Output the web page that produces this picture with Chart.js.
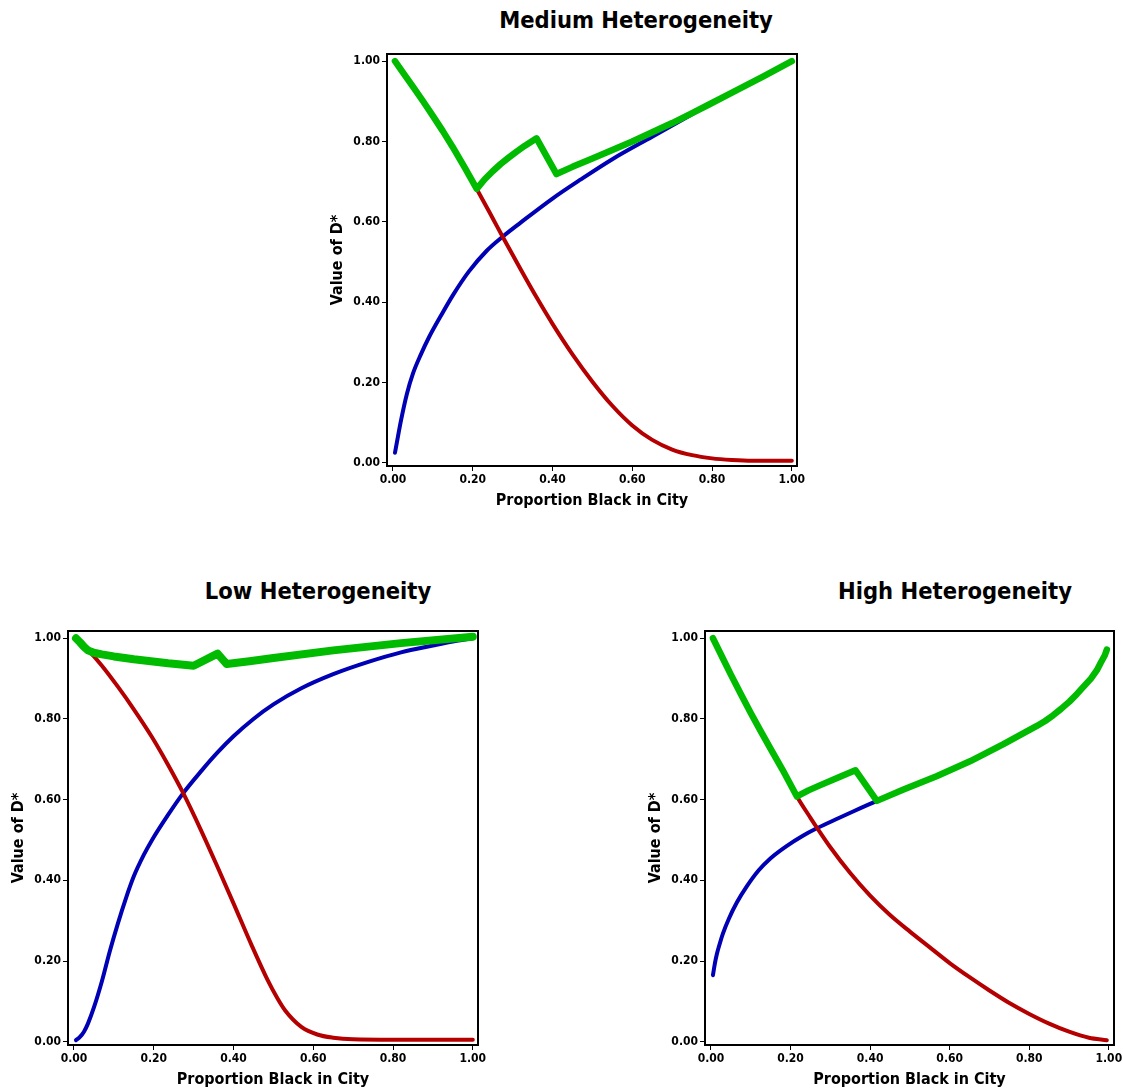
<!DOCTYPE html>
<html>
<head>
<meta charset="utf-8">
<script src="https://cdn.jsdelivr.net/npm/chart.js@4.4.1/dist/chart.umd.min.js"></script>
<style>
  body { margin: 0; background: #fff; width: 1123px; height: 1091px; position: relative; overflow: hidden; }
  canvas { position: absolute; }
  .title {
    position: absolute; width: 400px; height: 32px; line-height: 32px; text-align: center;
    font-family: 'DejaVu Sans Condensed', 'DejaVu Sans', sans-serif; font-weight: bold; font-size: 23.5px; color: #000;
  }
</style>
</head>
<body>
<div class="title" style="left:436px;top:4px">Medium Heterogeneity</div>
<div class="title" style="left:118px;top:575px">Low Heterogeneity</div>
<div class="title" style="left:755px;top:575px">High Heterogeneity</div>
<canvas id="medChart" width="486" height="470" style="left:325px;top:44px"></canvas>
<canvas id="lowChart" width="486" height="472" style="left:6px;top:621px"></canvas>
<canvas id="highChart" width="485" height="472" style="left:643px;top:621px"></canvas>
<script>
// axis ticks and labels
const xTicks = [0, 0.2, 0.4, 0.6, 0.8, 1.0];
const yTicks = [0, 0.2, 0.4, 0.6, 0.8, 1.0];
const xLabel = "Proportion Black in City";
const yLabel = "Value of D*";

// medium heterogeneity
const medRedX = [0.005, 0.03, 0.05, 0.075, 0.10, 0.125, 0.15, 0.18, 0.21, 0.25, 0.275, 0.32, 0.36, 0.40, 0.45, 0.50, 0.55, 0.60, 0.65, 0.70, 0.75, 0.80, 0.85, 0.90, 1.0];
const medRedY = [1.0, 0.965, 0.937, 0.901, 0.864, 0.826, 0.786, 0.735, 0.682, 0.609, 0.563, 0.482, 0.412, 0.346, 0.27, 0.202, 0.142, 0.093, 0.057, 0.033, 0.019, 0.011, 0.007, 0.005, 0.005];
const medBlueX = [0.005, 0.01, 0.02, 0.035, 0.05, 0.07, 0.09, 0.12, 0.15, 0.19, 0.235, 0.275, 0.32, 0.40, 0.47, 0.55, 0.65, 0.75, 0.85, 0.93, 1.0];
const medBlueY = [0.025, 0.052, 0.105, 0.172, 0.222, 0.27, 0.312, 0.366, 0.417, 0.476, 0.528, 0.563, 0.598, 0.658, 0.705, 0.756, 0.812, 0.868, 0.922, 0.963, 1.0];
const medGreenX = [0.005, 0.03, 0.05, 0.075, 0.10, 0.125, 0.15, 0.18, 0.21, 0.23, 0.25, 0.27, 0.29, 0.31, 0.33, 0.36, 0.41, 0.45, 0.50, 0.55, 0.60, 0.65, 0.70, 0.75, 0.79, 0.85, 0.93, 1.0];
const medGreenY = [1.0, 0.965, 0.937, 0.901, 0.864, 0.826, 0.786, 0.735, 0.682, 0.706, 0.726, 0.744, 0.76, 0.775, 0.789, 0.808, 0.719, 0.737, 0.758, 0.779, 0.80, 0.823, 0.846, 0.871, 0.891, 0.922, 0.963, 1.0];

// low heterogeneity
const lowRedX = [0.005, 0.035, 0.07, 0.11, 0.15, 0.195, 0.235, 0.273, 0.32, 0.36, 0.40, 0.445, 0.485, 0.51, 0.53, 0.57, 0.61, 0.65, 0.70, 0.80, 1.0];
const lowRedY = [1.0, 0.971, 0.932, 0.88, 0.824, 0.756, 0.688, 0.618, 0.521, 0.433, 0.343, 0.24, 0.154, 0.108, 0.077, 0.037, 0.018, 0.01, 0.006, 0.005, 0.005];
const lowBlueX = [0.005, 0.015, 0.025, 0.035, 0.05, 0.07, 0.09, 0.11, 0.13, 0.15, 0.175, 0.195, 0.235, 0.273, 0.32, 0.36, 0.40, 0.45, 0.50, 0.57, 0.65, 0.74, 0.82, 0.90, 0.95, 1.0];
const lowBlueY = [0.004, 0.012, 0.025, 0.045, 0.085, 0.15, 0.225, 0.293, 0.355, 0.41, 0.463, 0.499, 0.561, 0.615, 0.672, 0.717, 0.757, 0.80, 0.836, 0.876, 0.911, 0.942, 0.965, 0.982, 0.992, 1.0];
const lowGreenX = [0.005, 0.015, 0.025, 0.035, 0.05, 0.07, 0.10, 0.15, 0.236, 0.30, 0.36, 0.383, 0.44, 0.50, 0.65, 0.82, 1.0];
const lowGreenY = [1.0, 0.99, 0.979, 0.97, 0.964, 0.96, 0.955, 0.948, 0.938, 0.932, 0.962, 0.936, 0.943, 0.951, 0.97, 0.988, 1.004];

// high heterogeneity
const highRedX = [0.005, 0.03, 0.05, 0.075, 0.10, 0.125, 0.15, 0.18, 0.216, 0.25, 0.266, 0.30, 0.35, 0.40, 0.45, 0.50, 0.55, 0.60, 0.65, 0.70, 0.75, 0.80, 0.85, 0.90, 0.95, 0.995];
const highRedY = [1.0, 0.95, 0.91, 0.862, 0.815, 0.77, 0.726, 0.674, 0.608, 0.555, 0.531, 0.482, 0.418, 0.362, 0.314, 0.273, 0.234, 0.195, 0.16, 0.127, 0.096, 0.069, 0.045, 0.025, 0.01, 0.004];
const highBlueX = [0.005, 0.01, 0.015, 0.02, 0.03, 0.045, 0.065, 0.09, 0.12, 0.15, 0.19, 0.23, 0.266, 0.32, 0.36, 0.417, 0.484, 0.567, 0.651, 0.734, 0.818, 0.84, 0.86, 0.88, 0.901, 0.92, 0.94, 0.955, 0.97, 0.98, 0.99, 0.995];
const highBlueY = [0.165, 0.195, 0.218, 0.236, 0.268, 0.305, 0.345, 0.385, 0.425, 0.455, 0.485, 0.51, 0.529, 0.554, 0.572, 0.597, 0.625, 0.658, 0.695, 0.737, 0.782, 0.795, 0.809, 0.825, 0.843, 0.862, 0.884, 0.9, 0.921, 0.94, 0.958, 0.972];
const highGreenX = [0.005, 0.03, 0.05, 0.075, 0.10, 0.125, 0.15, 0.18, 0.216, 0.245, 0.275, 0.32, 0.363, 0.417, 0.484, 0.567, 0.651, 0.734, 0.818, 0.84, 0.86, 0.88, 0.901, 0.92, 0.94, 0.955, 0.97, 0.98, 0.99, 0.995];
const highGreenY = [1.0, 0.95, 0.91, 0.862, 0.815, 0.77, 0.726, 0.674, 0.608, 0.623, 0.636, 0.655, 0.673, 0.597, 0.625, 0.658, 0.695, 0.737, 0.782, 0.795, 0.809, 0.825, 0.843, 0.862, 0.884, 0.9, 0.921, 0.94, 0.958, 0.972];

const FONT = "'DejaVu Sans Condensed', 'DejaVu Sans', sans-serif";
const RED = "#b40000", BLUE = "#0000b4", GREEN = "#00bb00";

function pts(xs, ys) {
  return xs.map((x, i) => ({ x: x, y: ys[i] }));
}

function line(data, color, width, smooth) {
  return {
    data: data,
    borderColor: color,
    backgroundColor: color,
    borderWidth: width,
    pointRadius: 0,
    tension: 0,
    cubicInterpolationMode: smooth ? "monotone" : "default",
    borderJoinStyle: "round",
    borderCapStyle: "round",
    fill: false,
  };
}

// black box round the plot area
const framePlugin = {
  id: "frame",
  afterDatasetsDraw(chart) {
    const { ctx, chartArea: a } = chart;
    ctx.save();
    ctx.strokeStyle = "#000";
    ctx.lineWidth = 2;
    ctx.strokeRect(a.left, a.top, a.right - a.left, a.bottom - a.top);
    ctx.restore();
  },
};

function axis(ticks, min, max, label, fit, titlePad) {
  return {
    type: "linear",
    min: min,
    max: max,
    afterBuildTicks: (s) => { s.ticks = ticks.map((v) => ({ value: v })); },
    afterFit: fit,
    grid: { drawOnChartArea: false, drawTicks: true, tickLength: 5, color: "#000", lineWidth: 1 },
    border: { display: false },
    ticks: {
      callback: (v) => Number(v).toFixed(2),
      font: { family: FONT, size: 12, weight: "bold" },
      color: "#000",
      padding: 2,
      maxRotation: 0,
      autoSkip: false,
    },
    title: {
      display: true,
      text: label,
      font: { family: FONT, size: 16, weight: "bold" },
      color: "#000",
      padding: titlePad,
    },
  };
}

function makeChart(id, red, blue, green, greenWidth) {
  const ctx = document.getElementById(id).getContext("2d");
  return new Chart(ctx, {
    type: "line",
    data: {
      datasets: [
        line(green, GREEN, greenWidth, false),
        line(red, RED, 4, true),
        line(blue, BLUE, 4, true),
      ],
    },
    options: {
      responsive: false,
      animation: false,
      devicePixelRatio: 1,
      layout: { padding: { top: 10, right: 14, left: 0, bottom: 0 } },
      plugins: {
        legend: { display: false },
        tooltip: { enabled: false },
      },
      scales: {
        x: axis(xTicks, -0.015, 1.013, xLabel, (s) => { s.height = 48; }, { top: 0, bottom: 4 }),
        y: axis(yTicks, -0.008, 1.018, yLabel, (s) => { s.width = 62; }, { top: 3, bottom: 0 }),
      },
    },
    plugins: [framePlugin],
  });
}

makeChart("medChart", pts(medRedX, medRedY), pts(medBlueX, medBlueY), pts(medGreenX, medGreenY), 6.5);
makeChart("lowChart", pts(lowRedX, lowRedY), pts(lowBlueX, lowBlueY), pts(lowGreenX, lowGreenY), 8);
makeChart("highChart", pts(highRedX, highRedY), pts(highBlueX, highBlueY), pts(highGreenX, highGreenY), 6.5);
</script>
</body>
</html>
